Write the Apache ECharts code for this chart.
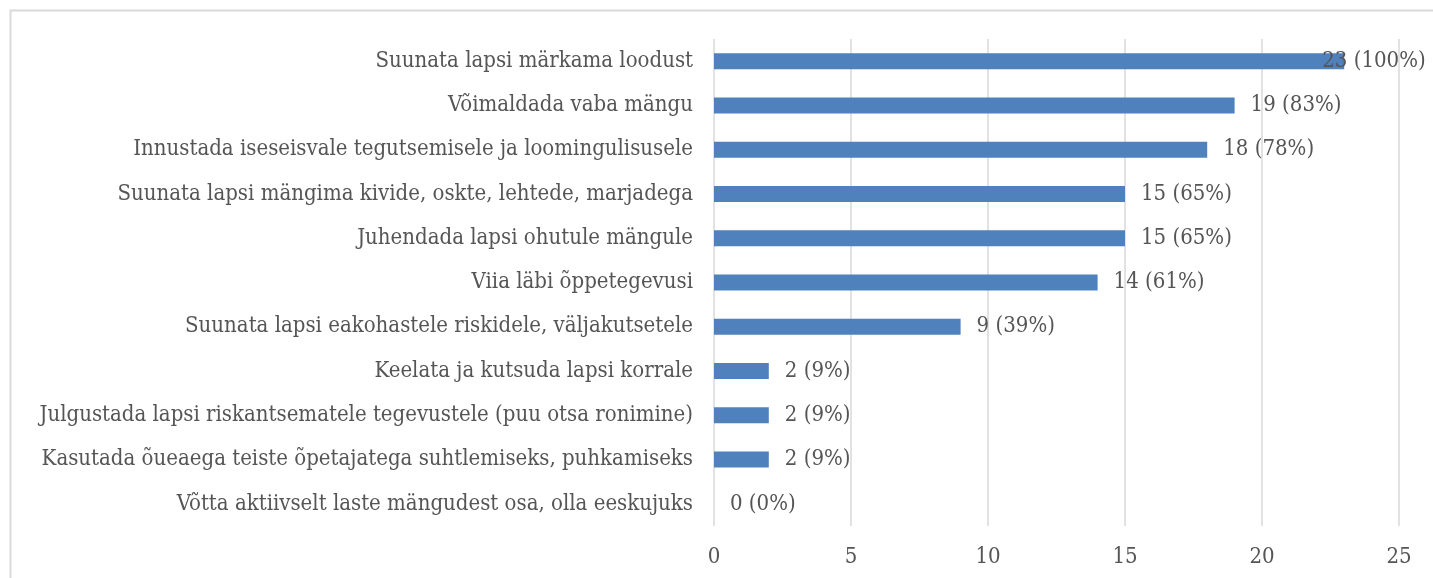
<!DOCTYPE html>
<html>
<head>
<meta charset="utf-8">
<script src="https://cdn.jsdelivr.net/npm/echarts@6/dist/echarts.min.js"></script>
<style>
html,body{margin:0;padding:0;background:#fff;}
#c{width:1433px;height:578px;}
</style>
</head>
<body>
<div id="c"></div>
<script>
const categories = [
  "Suunata lapsi märkama loodust",
  "Võimaldada vaba mängu",
  "Innustada iseseisvale tegutsemisele ja loomingulisusele",
  "Suunata lapsi mängima kivide, oskte, lehtede, marjadega",
  "Juhendada lapsi ohutule mängule",
  "Viia läbi õppetegevusi",
  "Suunata lapsi eakohastele riskidele, väljakutsetele",
  "Keelata ja kutsuda lapsi korrale",
  "Julgustada lapsi riskantsematele tegevustele (puu otsa ronimine)",
  "Kasutada õueaega teiste õpetajatega suhtlemiseks, puhkamiseks",
  "Võtta aktiivselt laste mängudest osa, olla eeskujuks"
];
const counts = [23, 19, 18, 15, 15, 14, 9, 2, 2, 2, 0];
const percents = [100, 83, 78, 65, 65, 61, 39, 9, 9, 9, 0];
const xTicks = [0, 5, 10, 15, 20, 25];

const FONT = "'DejaVu Serif Condensed', 'Liberation Serif', serif";
const TXT = '#555555';

const cats = categories.slice().reverse();
const vals = counts.slice().reverse();
const pcts = percents.slice().reverse();
const n = cats.length;

const data = vals.map((v, i) => {
  const item = { value: v, pct: pcts[i] };
  if (i === n - 1) item.label = { offset: [-38, 0] };
  return item;
});

const chart = echarts.init(document.getElementById('c'));
chart.setOption({
  animation: false,
  backgroundColor: '#fff',
  grid: { left: 714, right: 34, top: 39, bottom: 52, containLabel: false },
  xAxis: {
    type: 'value', min: 0, max: 25, interval: 5,
    axisLine: { show: false }, axisTick: { show: false },
    splitLine: { show: true, lineStyle: { color: '#d9d9d9', width: 1.5 } },
    axisLabel: { color: TXT, fontFamily: FONT, fontSize: 22, margin: 20,
      formatter: v => xTicks.includes(v) ? String(v) : '' }
  },
  yAxis: {
    type: 'category', data: cats,
    axisLine: { show: false }, axisTick: { show: false },
    axisLabel: { color: TXT, fontFamily: FONT, fontSize: 22, margin: 21 }
  },
  series: [{
    type: 'bar', data: data, barWidth: 16,
    itemStyle: { color: '#4f81bd' },
    label: {
      show: true, position: 'right', distance: 16,
      color: TXT, fontFamily: FONT, fontSize: 22,
      formatter: p => p.value + ' (' + p.data.pct + '%)'
    }
  }],
  graphic: [{
    type: 'polyline', silent: true,
    shape: { points: [[10.5, 600], [10.5, 10.5], [1440, 10.5]] },
    style: { stroke: '#d9d9d9', lineWidth: 2, fill: null }
  }]
});
</script>
</body>
</html>
